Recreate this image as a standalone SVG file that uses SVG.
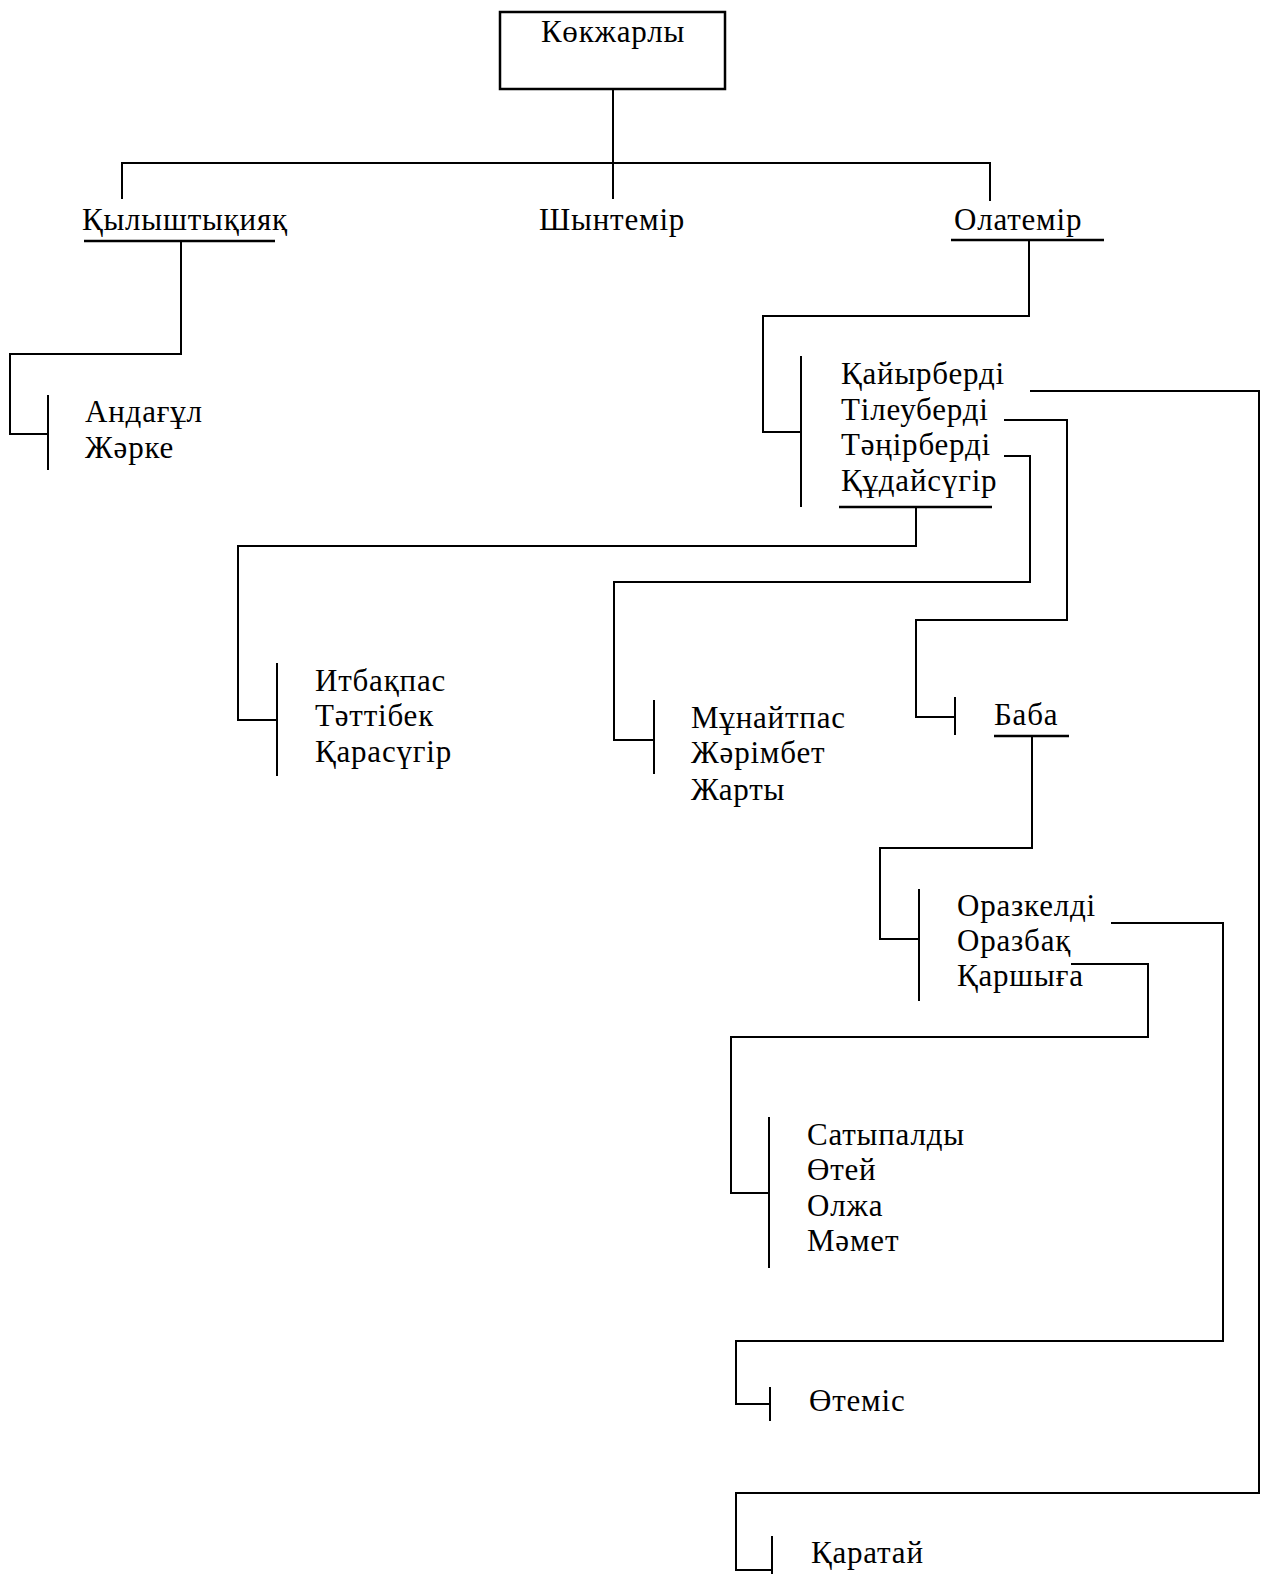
<svg xmlns="http://www.w3.org/2000/svg" width="1266" height="1574" viewBox="0 0 1266 1574">
<style>
text{font-family:"Liberation Serif","Times New Roman",serif;font-size:31px;letter-spacing:0.8px;fill:#000}
.c{fill:none;stroke:#000;stroke-width:2}
.u{stroke:#000;stroke-width:2.5}
.b{stroke:#000;stroke-width:2}
</style>
<rect width="1266" height="1574" fill="#fff"/>
<g id="connectors">
<polyline class="c" points="613,89 613,199"/>
<polyline class="c" points="122,199 122,163 990,163 990,201"/>
<polyline class="c" points="181,241 181,354 10,354 10,434 48,434"/>
<polyline class="c" points="1029,240 1029,316 763,316 763,432 801,432"/>
<polyline class="c" points="1030,391 1259,391 1259,1493 736,1493 736,1570 772,1570"/>
<polyline class="c" points="1004,420 1067,420 1067,620 916,620 916,717 955,717"/>
<polyline class="c" points="1004,456 1030,456 1030,582 614,582 614,740 654,740"/>
<polyline class="c" points="916,507 916,546 238,546 238,720 277,720"/>
<polyline class="c" points="1032,736 1032,848 880,848 880,939 919,939"/>
<polyline class="c" points="1111,923 1223,923 1223,1341 736,1341 736,1404 770,1404"/>
<polyline class="c" points="1071,964 1148,964 1148,1037 731,1037 731,1193 769,1193"/>
</g>
<g id="n-kokzharly">
<rect x="500" y="12" width="225" height="77" fill="none" stroke="#000" stroke-width="2.5"/>
<text x="613" y="42" text-anchor="middle">Көкжарлы</text>
</g>
<g id="n-kylyshtykiyak">
<text x="82" y="230">Қылыштықияқ</text>
<line class="u" x1="84" y1="241" x2="275" y2="241"/>
</g>
<g id="n-shyntemir">
<text x="539" y="230">Шынтемір</text>
</g>
<g id="n-olatemir">
<text x="954" y="230">Олатемір</text>
<line class="u" x1="951" y1="240" x2="1104" y2="240"/>
</g>
<g id="n-andagul">
<line class="b" x1="48" y1="395" x2="48" y2="470"/>
<text x="85" y="422">Андағұл</text>
<text x="85" y="458">Жәрке</text>
</g>
<g id="n-kaiyrberdi">
<line class="b" x1="801" y1="356" x2="801" y2="507"/>
<text x="841" y="384">Қайырберді</text>
<text x="841" y="420">Тілеуберді</text>
<text x="841" y="455">Тәңірберді</text>
<text x="841" y="491">Құдайсүгір</text>
<line class="u" x1="839" y1="507" x2="992" y2="507"/>
</g>
<g id="n-itbakpas">
<line class="b" x1="277" y1="663" x2="277" y2="776"/>
<text x="315" y="691">Итбақпас</text>
<text x="315" y="726">Тәттібек</text>
<text x="315" y="762">Қарасүгір</text>
</g>
<g id="n-munaitpas">
<line class="b" x1="654" y1="700" x2="654" y2="774"/>
<text x="691" y="728">Мұнайтпас</text>
<text x="691" y="763">Жәрімбет</text>
<text x="691" y="800">Жарты</text>
</g>
<g id="n-baba">
<line class="b" x1="955" y1="697" x2="955" y2="735"/>
<text x="994" y="725">Баба</text>
<line class="u" x1="994" y1="736" x2="1069" y2="736"/>
</g>
<g id="n-orazkeldi">
<line class="b" x1="919" y1="889" x2="919" y2="1001"/>
<text x="957" y="916">Оразкелді</text>
<text x="957" y="951">Оразбақ</text>
<text x="957" y="986">Қаршыға</text>
</g>
<g id="n-satypaldy">
<line class="b" x1="769" y1="1117" x2="769" y2="1268"/>
<text x="807" y="1145">Сатыпалды</text>
<text x="807" y="1180">Өтей</text>
<text x="807" y="1216">Олжа</text>
<text x="807" y="1251">Мәмет</text>
</g>
<g id="n-otemis">
<line class="b" x1="770" y1="1387" x2="770" y2="1421"/>
<text x="809" y="1411">Өтеміс</text>
</g>
<g id="n-karatai">
<line class="b" x1="772" y1="1536" x2="772" y2="1574"/>
<text x="811" y="1563">Қаратай</text>
</g>
</svg>
